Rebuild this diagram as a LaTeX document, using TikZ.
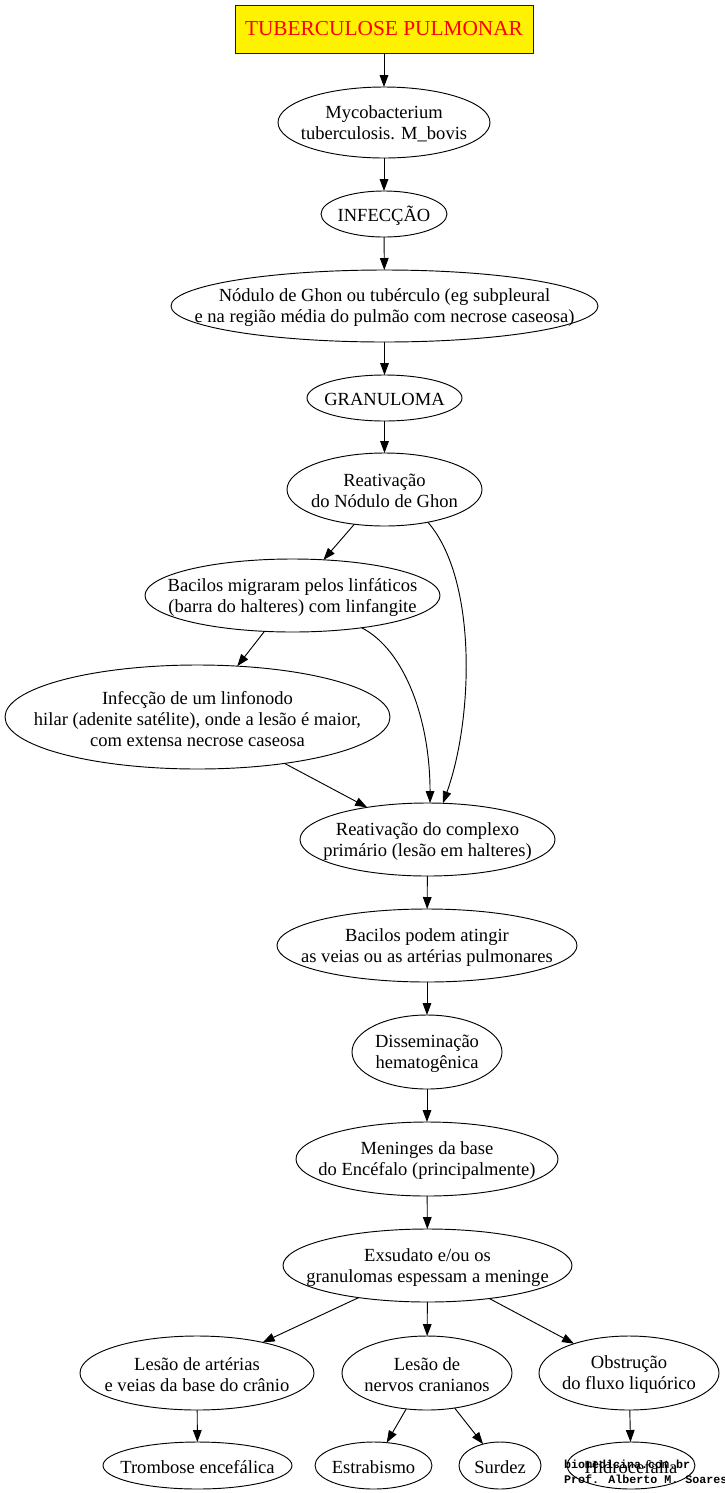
\documentclass[tikz,border=0pt]{standalone}
\usepackage{fontspec}
\setmainfont{Liberation Serif}
\newfontfamily\wmfont{Liberation Mono}
\usetikzlibrary{shapes.geometric,arrows.meta}
\begin{document}
\begin{tikzpicture}[x=0.75pt,y=-0.75pt,
  every node/.style={inner sep=0pt, outer sep=0pt},
  ell/.style 2 args={ellipse, draw, line width=0.7pt, minimum width=#1*0.75pt, minimum height=#2*0.75pt},
  txt/.style={align=center, yshift=-1.2pt, font=\fontsize{13.9}{15.75}\selectfont},
  arr/.style={-{Triangle[length=9pt,width=6.5pt]}, line width=0.7pt},
]
\useasboundingbox (0,0) rectangle (725,1493);

\node[draw=blue, fill=yellow, line width=0.75pt, minimum width=298*0.75pt, minimum height=48*0.75pt, text=red, font=\fontsize{16}{18}\selectfont] (tit) at (384,29) {TUBERCULOSE PULMONAR};

\node[ell={212}{71}, label={[txt]center:{Mycobacterium\\tuberculosis. M\_bovis}}] (myc) at (384,122.5) {};
\node[ell={126}{46}, label={[txt]center:{INFECÇÃO}}] (inf) at (384,214) {};
\node[ell={427}{72}, label={[txt]center:{Nódulo de Ghon ou tubérculo (eg subpleural\\e na região média do pulmão com necrose caseosa)}}] (nod) at (384.5,306) {};
\node[ell={155}{46}, label={[txt]center:{GRANULOMA}}] (gra) at (384.5,398) {};
\node[ell={195}{73}, label={[txt]center:{Reativação\\do Nódulo de Ghon}}] (rn) at (384.5,489.5) {};
\node[ell={295}{73}, label={[txt]center:{Bacilos migraram pelos linfáticos\\(barra do halteres) com linfangite}}] (bm) at (292.5,595.5) {};
\node[ell={385}{104}, label={[txt]center:{Infecção de um linfonodo\\hilar (adenite satélite), onde a lesão é maior,\\com extensa necrose caseosa}}] (il) at (197.5,717) {};
\node[ell={255}{73}, label={[txt]center:{Reativação do complexo\\primário (lesão em halteres)}}] (rc) at (427.5,839.5) {};
\node[ell={300}{73}, label={[txt]center:{Bacilos podem atingir\\as veias ou as artérias pulmonares}}] (bp) at (427,945.5) {};
\node[ell={150}{74}, label={[txt]center:{Disseminação\\hematogênica}}] (dis) at (427,1052) {};
\node[ell={262}{74}, label={[txt]center:{Meninges da base\\do Encéfalo (principalmente)}}] (men) at (427,1159) {};
\node[ell={289}{73}, label={[txt]center:{Exsudato e/ou os\\granulomas espessam a meninge}}] (exs) at (427.5,1265.5) {};
\node[ell={234}{74}, label={[txt]center:{Lesão de artérias\\e veias da base do crânio}}] (la) at (197,1373) {};
\node[ell={170}{74}, label={[txt]center:{Lesão de\\nervos cranianos}}] (ln) at (427,1373) {};
\node[ell={180}{74}, label={[txt]center:{Obstrução\\do fluxo liquórico}}] (ob) at (629,1373) {};
\node[ell={189}{47}, label={[txt]center:{Trombose encefálica}}] (tro) at (197.5,1465.5) {};
\node[ell={117}{47}, label={[txt]center:{Estrabismo}}] (est) at (373.5,1465.5) {};
\node[ell={82}{47}, label={[txt]center:{Surdez}}] (sur) at (500,1465.5) {};
\node[ell={128}{47}, label={[txt]center:{Hidrocefalia}}] (hid) at (631,1465.5) {};

\draw[arr] (tit) -- (myc);
\draw[arr] (myc) -- (inf);
\draw[arr] (inf) -- (nod);
\draw[arr] (nod) -- (gra);
\draw[arr] (gra) -- (rn);
\draw[arr] (rn) -- (bm);
\draw[arr] (rn.-37) .. controls (478,580) and (473,720) .. (rc.67);
\draw[arr] (bm) -- (il);
\draw[arr] (bm.-25) .. controls (405,650) and (430,720) .. (rc.86);
\draw[arr] (il) -- (rc);
\draw[arr] (rc) -- (bp);
\draw[arr] (bp) -- (dis);
\draw[arr] (dis) -- (men);
\draw[arr] (men) -- (exs);
\draw[arr] (exs) -- (la);
\draw[arr] (exs) -- (ln);
\draw[arr] (exs) -- (ob);
\draw[arr] (la) -- (tro);
\draw[arr] (ln) -- (est);
\draw[arr] (ln) -- (sur);
\draw[arr] (ob) -- (hid);

\node[anchor=north west, align=left, font=\wmfont\bfseries\fontsize{8.75}{11}\selectfont] (wm) at (564,1460) {biomedicina.com.br\\Prof. Alberto M. Soares};
\end{tikzpicture}
\end{document}
